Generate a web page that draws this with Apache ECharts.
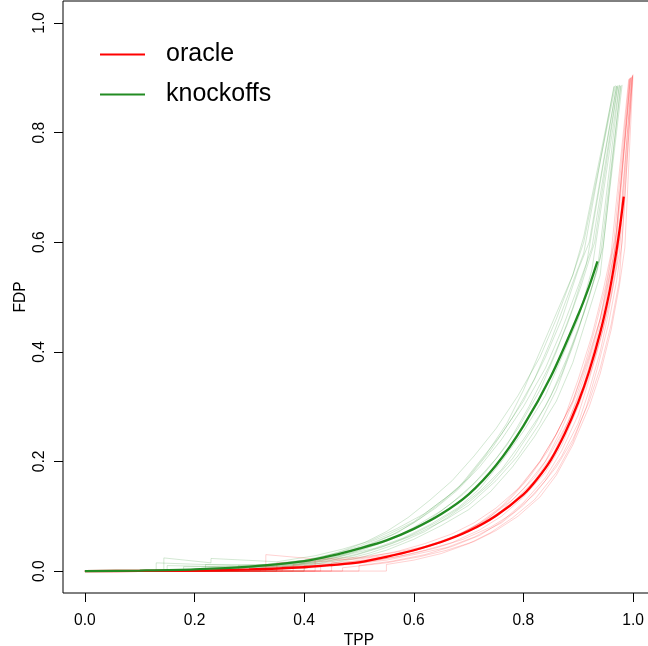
<!DOCTYPE html>
<html>
<head>
<meta charset="utf-8">
<script src="https://cdn.jsdelivr.net/npm/echarts@6/dist/echarts.min.js"></script>
<style>html,body{margin:0;padding:0;background:#fff}#c{width:648px;height:646px}</style>
</head>
<body>
<div id="c"></div>
<script>
// Tick labels
const xTicks = [0, 0.2, 0.4, 0.6, 0.8, 1.0];
const yTicks = [0, 0.2, 0.4, 0.6, 0.8, 1.0];

// Mean curves [TPP, FDP]
const oracleMean = [[0,0],[0.1,0.0003],[0.2,0.001],[0.3,0.003],[0.4,0.007],[0.45,0.011],[0.5,0.016],[0.55,0.026],[0.6,0.038],[0.65,0.053],[0.7,0.073],[0.75,0.101],[0.8,0.14],[0.825,0.168],[0.85,0.203],[0.875,0.25],[0.9,0.308],[0.92,0.365],[0.94,0.435],[0.955,0.5],[0.965,0.555],[0.975,0.62],[0.983,0.683]];
const knockoffsMean = [[0,0],[0.1,0.001],[0.2,0.003],[0.3,0.008],[0.4,0.018],[0.45,0.028],[0.5,0.041],[0.55,0.056],[0.6,0.077],[0.65,0.104],[0.7,0.14],[0.75,0.193],[0.8,0.265],[0.85,0.355],[0.9,0.468],[0.92,0.52],[0.935,0.565]];

// Individual runs (knockoffs)
const knockRun1 = [[0,0],[0.13,0],[0.13,0.015],[0.3,0.009],[0.4,0.02],[0.46,0.033],[0.5,0.045],[0.55,0.065],[0.6,0.09],[0.64,0.12],[0.68,0.15],[0.72,0.2],[0.76,0.25],[0.8,0.31],[0.84,0.39],[0.87,0.46],[0.9,0.55],[0.92,0.6],[0.97,0.885]];
const knockRun2 = [[0,0],[0.2,0],[0.2,0.004],[0.32,0.006],[0.42,0.016],[0.48,0.03],[0.53,0.042],[0.58,0.06],[0.63,0.085],[0.68,0.115],[0.72,0.15],[0.76,0.2],[0.8,0.255],[0.84,0.32],[0.87,0.39],[0.9,0.46],[0.925,0.55],[0.975,0.887]];
const knockRun3 = [[0,0],[0.144,0],[0.144,0.024],[0.23,0.015],[0.23,0.023],[0.35,0.017],[0.42,0.028],[0.47,0.04],[0.52,0.055],[0.57,0.078],[0.62,0.105],[0.66,0.135],[0.7,0.17],[0.74,0.22],[0.78,0.28],[0.82,0.35],[0.85,0.42],[0.88,0.5],[0.91,0.58],[0.965,0.884]];
const knockRun4 = [[0,0],[0.25,0],[0.25,0.004],[0.38,0.01],[0.45,0.02],[0.5,0.032],[0.56,0.05],[0.61,0.07],[0.66,0.095],[0.7,0.12],[0.75,0.165],[0.79,0.21],[0.83,0.27],[0.86,0.33],[0.89,0.41],[0.92,0.5],[0.94,0.57],[0.978,0.886]];
const knockRun5 = [[0,0],[0.3,0],[0.3,0.006],[0.4,0.014],[0.46,0.025],[0.51,0.04],[0.56,0.058],[0.6,0.08],[0.65,0.11],[0.69,0.14],[0.73,0.18],[0.77,0.23],[0.81,0.3],[0.85,0.38],[0.88,0.45],[0.905,0.52],[0.93,0.6],[0.972,0.884]];
const knockRun6 = [[0,0],[0.18,0],[0.18,0.008],[0.33,0.009],[0.41,0.018],[0.47,0.03],[0.52,0.048],[0.57,0.07],[0.61,0.095],[0.65,0.125],[0.69,0.16],[0.73,0.21],[0.77,0.27],[0.8,0.33],[0.83,0.4],[0.86,0.47],[0.89,0.54],[0.91,0.6],[0.968,0.886]];
const knockRun7 = [[0,0],[0.35,0],[0.35,0.007],[0.43,0.015],[0.49,0.028],[0.54,0.043],[0.59,0.063],[0.64,0.088],[0.68,0.113],[0.72,0.145],[0.76,0.185],[0.8,0.24],[0.84,0.3],[0.87,0.36],[0.9,0.44],[0.925,0.52],[0.945,0.59],[0.98,0.887]];
const knockRun8 = [[0,0],[0.28,0],[0.28,0.01],[0.39,0.013],[0.44,0.022],[0.49,0.035],[0.54,0.052],[0.59,0.072],[0.63,0.095],[0.67,0.125],[0.71,0.16],[0.75,0.205],[0.79,0.26],[0.83,0.33],[0.86,0.4],[0.89,0.48],[0.915,0.56],[0.97,0.885]];
const knockRun9 = [[0,0],[0.4,0],[0.4,0.01],[0.47,0.02],[0.52,0.033],[0.57,0.05],[0.62,0.072],[0.66,0.097],[0.7,0.125],[0.74,0.16],[0.78,0.205],[0.82,0.265],[0.85,0.32],[0.88,0.39],[0.91,0.47],[0.935,0.55],[0.975,0.886]];
const knockRun10 = [[0,0],[0.22,0],[0.22,0.012],[0.34,0.012],[0.42,0.022],[0.47,0.037],[0.51,0.052],[0.55,0.072],[0.59,0.098],[0.63,0.13],[0.67,0.165],[0.71,0.21],[0.75,0.26],[0.79,0.32],[0.83,0.39],[0.86,0.46],[0.89,0.54],[0.91,0.61],[0.966,0.885]];
const knockRun11 = [[0,0],[0.32,0],[0.32,0.005],[0.44,0.012],[0.5,0.024],[0.55,0.038],[0.6,0.058],[0.65,0.083],[0.7,0.112],[0.74,0.145],[0.78,0.19],[0.82,0.245],[0.86,0.31],[0.89,0.38],[0.915,0.46],[0.94,0.54],[0.977,0.885]];
const knockRun12 = [[0,0],[0.15,0],[0.15,0.01],[0.3,0.007],[0.4,0.016],[0.46,0.03],[0.51,0.046],[0.56,0.066],[0.6,0.088],[0.64,0.115],[0.68,0.148],[0.72,0.19],[0.76,0.24],[0.8,0.3],[0.84,0.37],[0.87,0.44],[0.9,0.52],[0.925,0.59],[0.972,0.886]];

// Individual runs (oracle)
const oracleRun1 = [[0,0],[0.33,0],[0.33,0.03],[0.42,0.022],[0.5,0.025],[0.56,0.033],[0.62,0.045],[0.67,0.062],[0.72,0.085],[0.76,0.11],[0.8,0.15],[0.84,0.2],[0.87,0.26],[0.9,0.33],[0.92,0.39],[0.94,0.46],[0.955,0.53],[0.97,0.6],[0.995,0.9]];
const oracleRun2 = [[0,0],[0.4,0],[0.4,0.005],[0.48,0.012],[0.55,0.02],[0.6,0.03],[0.66,0.043],[0.71,0.062],[0.76,0.088],[0.8,0.12],[0.84,0.165],[0.87,0.21],[0.9,0.27],[0.92,0.33],[0.94,0.4],[0.955,0.47],[0.97,0.56],[0.998,0.902]];
const oracleRun3 = [[0,0],[0.45,0],[0.45,0.015],[0.52,0.02],[0.58,0.032],[0.63,0.045],[0.68,0.065],[0.72,0.088],[0.76,0.118],[0.8,0.16],[0.83,0.2],[0.86,0.25],[0.89,0.31],[0.91,0.37],[0.93,0.44],[0.95,0.52],[0.965,0.6],[0.993,0.898]];
const oracleRun4 = [[0,0],[0.36,0],[0.36,0.008],[0.46,0.012],[0.53,0.02],[0.59,0.03],[0.64,0.042],[0.69,0.058],[0.74,0.08],[0.78,0.105],[0.82,0.14],[0.86,0.19],[0.89,0.24],[0.92,0.31],[0.94,0.37],[0.96,0.45],[0.975,0.53],[0.999,0.903]];
const oracleRun5 = [[0,0],[0.42,0],[0.42,0.02],[0.5,0.022],[0.56,0.03],[0.61,0.042],[0.66,0.057],[0.7,0.075],[0.74,0.1],[0.78,0.13],[0.82,0.17],[0.85,0.215],[0.88,0.27],[0.91,0.34],[0.93,0.41],[0.95,0.49],[0.965,0.57],[0.996,0.9]];
const oracleRun6 = [[0,0],[0.5,0],[0.5,0.01],[0.56,0.018],[0.62,0.03],[0.67,0.045],[0.72,0.065],[0.76,0.09],[0.8,0.125],[0.84,0.17],[0.87,0.22],[0.9,0.285],[0.92,0.35],[0.94,0.42],[0.96,0.5],[0.975,0.58],[0.999,0.905]];
const oracleRun7 = [[0,0],[0.38,0],[0.38,0.012],[0.47,0.015],[0.54,0.025],[0.6,0.037],[0.65,0.052],[0.7,0.072],[0.74,0.095],[0.78,0.125],[0.82,0.165],[0.855,0.215],[0.885,0.28],[0.91,0.35],[0.93,0.42],[0.95,0.5],[0.967,0.59],[0.994,0.899]];
const oracleRun8 = [[0,0],[0.47,0],[0.47,0.006],[0.55,0.015],[0.61,0.026],[0.66,0.038],[0.71,0.054],[0.75,0.074],[0.79,0.1],[0.83,0.135],[0.86,0.175],[0.89,0.23],[0.92,0.3],[0.94,0.36],[0.96,0.44],[0.975,0.52],[0.985,0.59],[1.0,0.906]];
const oracleRun9 = [[0,0],[0.3,0],[0.3,0.008],[0.44,0.01],[0.52,0.02],[0.58,0.032],[0.63,0.046],[0.68,0.066],[0.73,0.092],[0.77,0.125],[0.81,0.17],[0.845,0.22],[0.875,0.28],[0.9,0.35],[0.925,0.43],[0.945,0.51],[0.96,0.58],[0.992,0.897]];
const oracleRun10 = [[0,0],[0.43,0],[0.43,0.01],[0.51,0.016],[0.57,0.026],[0.62,0.038],[0.67,0.052],[0.72,0.075],[0.76,0.1],[0.8,0.135],[0.84,0.18],[0.87,0.23],[0.9,0.3],[0.925,0.37],[0.945,0.44],[0.96,0.51],[0.975,0.6],[0.997,0.901]];
const oracleRun11 = [[0,0],[0.55,0],[0.55,0.012],[0.6,0.02],[0.65,0.032],[0.7,0.05],[0.74,0.07],[0.78,0.097],[0.82,0.13],[0.86,0.18],[0.89,0.235],[0.915,0.3],[0.935,0.37],[0.955,0.45],[0.97,0.53],[0.98,0.6],[0.999,0.904]];
const oracleRun12 = [[0,0],[0.35,0],[0.35,0.015],[0.45,0.018],[0.52,0.026],[0.57,0.036],[0.62,0.05],[0.67,0.068],[0.71,0.088],[0.75,0.115],[0.79,0.15],[0.83,0.2],[0.86,0.25],[0.89,0.31],[0.915,0.38],[0.94,0.46],[0.955,0.54],[0.97,0.62],[0.995,0.9]];

const knockRuns = [knockRun1,knockRun2,knockRun3,knockRun4,knockRun5,knockRun6,knockRun7,knockRun8,knockRun9,knockRun10,knockRun11,knockRun12];
const oracleRuns = [oracleRun1,oracleRun2,oracleRun3,oracleRun4,oracleRun5,oracleRun6,oracleRun7,oracleRun8,oracleRun9,oracleRun10,oracleRun11,oracleRun12];

const RED = '#FF0000';
const GREEN = '#228B22';
const FONT = 'Liberation Sans';

const series = [];
knockRuns.forEach((d, i) => series.push({
  name: 'krun' + i, type: 'line', data: d, symbol: 'none', silent: true,
  lineStyle: { color: 'rgba(34,139,34,0.2)', width: 1 }, z: 1
}));
oracleRuns.forEach((d, i) => series.push({
  name: 'orun' + i, type: 'line', data: d, symbol: 'none', silent: true,
  lineStyle: { color: 'rgba(255,0,0,0.18)', width: 1 }, z: 2
}));
series.push({
  name: 'oracle', type: 'line', data: oracleMean, symbol: 'none', smooth: 0.3,
  itemStyle: { color: RED }, lineStyle: { color: RED, width: 2.3 }, z: 3
});
series.push({
  name: 'knockoffs', type: 'line', data: knockoffsMean, symbol: 'none', smooth: 0.3,
  itemStyle: { color: GREEN }, lineStyle: { color: GREEN, width: 2.3 }, z: 4
});

const chart = echarts.init(document.getElementById('c'), null, { renderer: 'canvas' });
chart.setOption({
  animation: false,
  backgroundColor: '#fff',
  grid: { left: 63, top: 1, right: -7, bottom: 53, show: true, borderColor: '#000', borderWidth: 1, backgroundColor: 'transparent', containLabel: false, outerBoundsMode: 'none' },
  legend: {
    data: ['oracle', 'knockoffs'], orient: 'vertical', left: 100, top: 41.5, padding: 0,
    itemWidth: 45, itemHeight: 2, itemGap: 14, icon: 'rect', selectedMode: false,
    textStyle: { fontFamily: FONT, fontSize: 25, color: '#000', lineHeight: 26, padding: [0, 0, 0, 16] }
  },
  xAxis: {
    type: 'value', min: -0.04, max: 1.04,
    name: 'TPP', nameLocation: 'middle', nameGap: 39.5, nameMoveOverlap: false,
    nameTextStyle: { fontFamily: FONT, fontSize: 15.6, color: '#000' },
    axisLine: { show: false, onZero: false },
    splitLine: { show: false },
    axisTick: { show: true, inside: false, customValues: xTicks, length: 9, lineStyle: { color: '#000', width: 1 } },
    axisLabel: { customValues: xTicks, margin: 19.5, fontFamily: FONT, fontSize: 15.6, color: '#000', formatter: v => v.toFixed(1) }
  },
  yAxis: {
    type: 'value', min: -0.04, max: 1.04,
    name: 'FDP', nameLocation: 'middle', nameGap: 34, nameMoveOverlap: false,
    nameTextStyle: { fontFamily: FONT, fontSize: 15.6, color: '#000' },
    axisLine: { show: false, onZero: false },
    splitLine: { show: false },
    axisTick: { show: true, inside: false, customValues: yTicks, length: 9, lineStyle: { color: '#000', width: 1 } },
    axisLabel: { customValues: yTicks, margin: 15, rotate: 90, fontFamily: FONT, fontSize: 15.6, color: '#000', formatter: v => v.toFixed(1) }
  },
  series: series
});
</script>
</body>
</html>
